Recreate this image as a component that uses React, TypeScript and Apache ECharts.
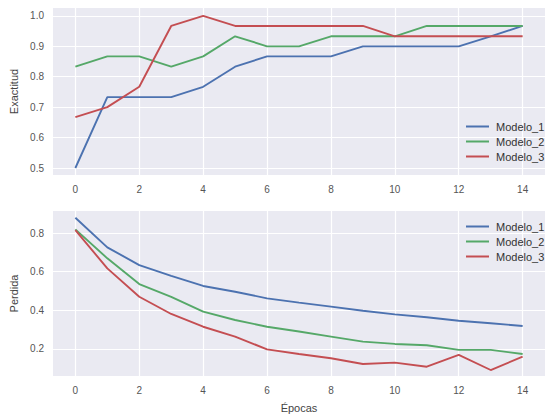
import React, { useEffect, useRef } from "react";
import * as echarts from "echarts";

const epochs = [0, 1, 2, 3, 4, 5, 6, 7, 8, 9, 10, 11, 12, 13, 14];
const seriesNames = ["Modelo_1", "Modelo_2", "Modelo_3"];
const acc1 = [0.5, 0.733, 0.733, 0.733, 0.767, 0.833, 0.867, 0.867, 0.867, 0.9, 0.9, 0.9, 0.9, 0.933, 0.967];
const acc2 = [0.833, 0.867, 0.867, 0.833, 0.867, 0.933, 0.9, 0.9, 0.933, 0.933, 0.933, 0.967, 0.967, 0.967, 0.967];
const acc3 = [0.667, 0.7, 0.767, 0.967, 1.0, 0.967, 0.967, 0.967, 0.967, 0.967, 0.933, 0.933, 0.933, 0.933, 0.933];
const loss1 = [0.879, 0.726, 0.634, 0.578, 0.526, 0.496, 0.462, 0.44, 0.419, 0.398, 0.379, 0.364, 0.346, 0.333, 0.319];
const loss2 = [0.819, 0.669, 0.536, 0.47, 0.393, 0.35, 0.315, 0.29, 0.264, 0.238, 0.226, 0.219, 0.195, 0.195, 0.174];
const loss3 = [0.815, 0.617, 0.47, 0.381, 0.315, 0.264, 0.198, 0.174, 0.152, 0.122, 0.129, 0.108, 0.169, 0.091, 0.16];
const xTicks = [0, 2, 4, 6, 8, 10, 12, 14];
const accTicks = [0.5, 0.6, 0.7, 0.8, 0.9, 1.0];
const lossTicks = [0.2, 0.4, 0.6, 0.8];

const colors = ["#4C72B0", "#55A868", "#C44E52"];
const FONT = "Liberation Sans, Arial, sans-serif";

export default function App() {
  const ref = useRef<HTMLDivElement>(null);
  useEffect(() => {
    if (!ref.current) return;
    const chart = echarts.init(ref.current, null, { renderer: "svg" });
    const xAxisBase = (gridIndex: number, name: string) => ({
      type: "value",
      gridIndex,
      min: -0.7,
      max: 14.7,
      name,
      nameLocation: "middle",
      nameGap: 26,
      nameTextStyle: { color: "#444", fontSize: 11, fontFamily: FONT },
      axisLine: { show: false },
      axisTick: { show: false, customValues: xTicks },
      axisLabel: { customValues: xTicks, color: "#555", fontSize: 10, fontFamily: FONT, margin: 9 },
      splitLine: { show: true, lineStyle: { color: "#ffffff", width: 1.2 } },
    });
    const yAxisBase = (gridIndex: number, name: string, min: number, max: number, ticks: number[]) => ({
      type: "value",
      gridIndex,
      min,
      max,
      name,
      nameLocation: "middle",
      nameGap: 24,
      nameTextStyle: { color: "#444", fontSize: 11, fontFamily: FONT },
      axisLine: { show: false },
      axisTick: { show: false, customValues: ticks },
      axisLabel: {
        customValues: ticks,
        color: "#555",
        fontSize: 10,
        fontFamily: FONT,
        margin: 9,
        formatter: (v: number) => v.toFixed(1),
      },
      splitLine: { show: true, lineStyle: { color: "#ffffff", width: 1.2 } },
    });
    const mk = (name: string, data: number[], i: number, axisIndex: number) => ({
      type: "line",
      name,
      xAxisIndex: axisIndex,
      yAxisIndex: axisIndex,
      data: epochs.map((e, k) => [e, data[k]]),
      showSymbol: false,
      symbol: "none",
      lineStyle: { color: colors[i], width: 1.9 },
      itemStyle: { color: colors[i] },
    });
    const legendBase = (top: number) => ({
      orient: "vertical",
      left: 461,
      top,
      icon: "rect",
      itemWidth: 23,
      itemHeight: 2,
      itemGap: 4,
      data: seriesNames,
      selectedMode: false,
      textStyle: { color: "#333", fontSize: 11, fontFamily: FONT, padding: [0, 0, 0, 2] },
    });
    chart.setOption({
      animation: false,
      backgroundColor: "#ffffff",
      grid: [
        { left: 53, right: -12, top: 8, height: 167, backgroundColor: "#EAEAF2", show: true, borderWidth: 0 },
        { left: 53, right: -12, top: 211, height: 165, backgroundColor: "#EAEAF2", show: true, borderWidth: 0 },
      ],
      xAxis: [xAxisBase(0, ""), xAxisBase(1, "Épocas")],
      yAxis: [
        yAxisBase(0, "Exactitud", 0.477, 1.026, accTicks),
        yAxisBase(1, "Perdida", 0.06, 0.914, lossTicks),
      ],
      legend: [legendBase(116), legendBase(216)],
      series: [
        mk("Modelo_1", acc1, 0, 0),
        mk("Modelo_2", acc2, 1, 0),
        mk("Modelo_3", acc3, 2, 0),
        mk("Modelo_1", loss1, 0, 1),
        mk("Modelo_2", loss2, 1, 1),
        mk("Modelo_3", loss3, 2, 1),
      ],
    });
    return () => chart.dispose();
  }, []);
  return <div ref={ref} style={{ width: 545, height: 416, position: "absolute", left: 0, top: 0 }} />;
}
